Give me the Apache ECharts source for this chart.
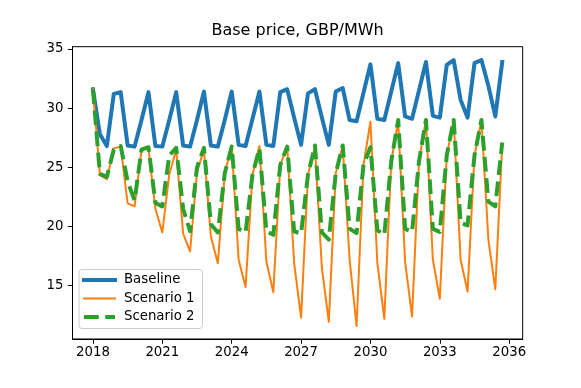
<!DOCTYPE html>
<html>
<head>
<meta charset="utf-8">
<title>Base price, GBP/MWh</title>
<script src="https://cdn.jsdelivr.net/npm/echarts@6/dist/echarts.min.js"></script>
<style>
  html, body { margin: 0; padding: 0; background: #fff; }
  #chart { width: 581px; height: 388px; }
</style>
</head>
<body>
<div id="chart"></div>
<script>
// x positions of the samples (years)
var years = [2018.0, 2018.3, 2018.6, 2018.9, 2019.2, 2019.5, 2019.8, 2020.1, 2020.4, 2020.7,
             2021.0, 2021.3, 2021.6, 2021.9, 2022.2, 2022.5, 2022.8, 2023.1, 2023.4, 2023.7,
             2024.0, 2024.3, 2024.6, 2024.9, 2025.2, 2025.5, 2025.8, 2026.1, 2026.4, 2026.7,
             2027.0, 2027.3, 2027.6, 2027.9, 2028.2, 2028.5, 2028.8, 2029.1, 2029.4, 2029.7,
             2030.0, 2030.3, 2030.6, 2030.9, 2031.2, 2031.5, 2031.8, 2032.1, 2032.4, 2032.7,
             2033.0, 2033.3, 2033.6, 2033.9, 2034.2, 2034.5, 2034.8, 2035.1, 2035.4, 2035.7];

var baseline = [31.6, 27.8, 26.8, 31.2, 31.35, 26.85, 26.75, 29.0, 31.35, 26.8,
                26.75, 29.0, 31.35, 26.85, 26.75, 29.0, 31.4, 26.85, 26.75, 29.0,
                31.4, 26.9, 26.8, 29.1, 31.4, 26.9, 26.8, 31.35, 31.6, 29.2,
                26.9, 31.25, 31.6, 29.2, 26.9, 31.4, 31.7, 29.0, 28.9, 31.3,
                33.7, 29.1, 29.0, 31.4, 33.8, 29.3, 29.1, 31.5, 33.9, 29.35,
                29.2, 33.65, 34.05, 30.7, 29.2, 33.8, 34.07, 31.9, 29.3, 33.9];

var scenario1 = [31.6, 24.35, 24.0, 26.6, 26.75, 21.95, 21.7, 26.5, 26.6, 21.5,
                 19.5, 24.4, 26.5, 19.4, 17.9, 24.6, 26.5, 19.15, 16.9, 24.5,
                 26.85, 17.2, 14.9, 24.4, 26.8, 17.05, 14.45, 25.2, 26.8, 16.9,
                 12.3, 24.4, 26.7, 16.5, 11.95, 24.5, 26.85, 17.2, 11.6, 25.2,
                 28.85, 16.9, 12.2, 25.5, 28.9, 17.0, 12.4, 25.5, 29.0, 17.2,
                 13.9, 26.0, 29.0, 17.2, 14.5, 26.0, 29.0, 18.9, 14.7, 26.9];

var scenario2 = [31.6, 24.45, 24.2, 26.5, 26.8, 23.8, 22.2, 26.5, 26.7, 22.0,
                 21.7, 26.0, 26.65, 21.5, 19.6, 25.0, 26.65, 20.2, 19.5, 24.5,
                 26.75, 19.8, 19.5, 24.4, 26.6, 19.6, 19.3, 25.2, 26.75, 19.6,
                 19.4, 24.4, 26.85, 19.5, 18.9, 24.5, 26.85, 19.8, 19.45, 25.2,
                 26.7, 19.7, 19.3, 25.5, 29.0, 19.8, 19.55, 25.5, 29.0, 19.8,
                 19.55, 26.0, 29.0, 20.3, 20.1, 26.0, 29.0, 22.1, 21.7, 27.1];

var xTicks = [2018, 2021, 2024, 2027, 2030, 2033, 2036];
var yTicks = [15, 20, 25, 30, 35];

function pairs(vals) {
    var out = [];
    for (var i = 0; i < vals.length; i++) {
        out.push([years[i], vals[i]]);
    }
    return out;
}

var font = 'DejaVu Sans';
var blue = '#1f77b4', orange = '#ff7f0e', green = '#2ca02c';
var greenDash = [14.8, 6.4];

var chart = echarts.init(document.getElementById('chart'));

var option = {
    animation: false,
    backgroundColor: '#fff',
    title: {
        text: 'Base price, GBP/MWh',
        left: 297.6,
        top: 23,
        textAlign: 'center',
        padding: 0,
        textStyle: {fontFamily: font, fontSize: 16, fontWeight: 'normal', color: '#000'}
    },
    grid: {
        left: 72.5,
        right: 58.3,
        top: 46.7,
        bottom: 49,
        show: true,
        borderColor: '#000',
        borderWidth: 1,
        backgroundColor: 'transparent'
    },
    legend: {
        orient: 'vertical',
        left: 79,
        top: 269.5,
        data: [
            {name: 'Baseline', lineStyle: {width: 4, color: blue}},
            {name: 'Scenario 1', lineStyle: {width: 2, color: orange}},
            {name: 'Scenario 2', lineStyle: {width: 4, color: green, type: greenDash}}
        ],
        backgroundColor: 'rgba(255,255,255,0.8)',
        borderColor: '#cccccc',
        borderWidth: 1,
        borderRadius: 3,
        padding: [4, 8, 5, 3],
        itemWidth: 31,
        itemHeight: 14,
        itemGap: 5.5,
        itemStyle: {opacity: 0},
        textStyle: {fontFamily: font, fontSize: 13.3, color: '#000', padding: [0, 0, 0, 4]}
    },
    xAxis: {
        type: 'value',
        min: 2017.115,
        max: 2036.585,
        axisLine: {show: true, lineStyle: {color: '#000', width: 1}},
        axisTick: {show: true, length: 4.7, customValues: xTicks, lineStyle: {color: '#000'}},
        axisLabel: {
            customValues: xTicks,
            margin: 7,
            fontFamily: font,
            fontSize: 13.3,
            color: '#000',
            formatter: function (v) { return String(Math.round(v)); }
        },
        splitLine: {show: false}
    },
    yAxis: {
        type: 'value',
        min: 10.5,
        max: 35.19,
        axisLine: {show: true, lineStyle: {color: '#000', width: 1}},
        axisTick: {show: true, length: 4.7, customValues: yTicks, lineStyle: {color: '#000'}},
        axisLabel: {
            customValues: yTicks,
            margin: 9,
            fontFamily: font,
            fontSize: 13.3,
            color: '#000',
            formatter: function (v) { return String(Math.round(v)); }
        },
        splitLine: {show: false}
    },
    series: [
        {
            name: 'Baseline',
            type: 'line',
            data: pairs(baseline),
            symbol: 'none',
            color: blue,
            lineStyle: {color: blue, width: 4, cap: 'square', join: 'round'}
        },
        {
            name: 'Scenario 1',
            type: 'line',
            data: pairs(scenario1),
            symbol: 'none',
            color: orange,
            lineStyle: {color: orange, width: 2, cap: 'square', join: 'round'}
        },
        {
            name: 'Scenario 2',
            type: 'line',
            data: pairs(scenario2),
            symbol: 'none',
            color: green,
            lineStyle: {color: green, width: 4, type: greenDash, cap: 'butt', join: 'round'}
        }
    ]
};
chart.setOption(option);
</script>
</body>
</html>
